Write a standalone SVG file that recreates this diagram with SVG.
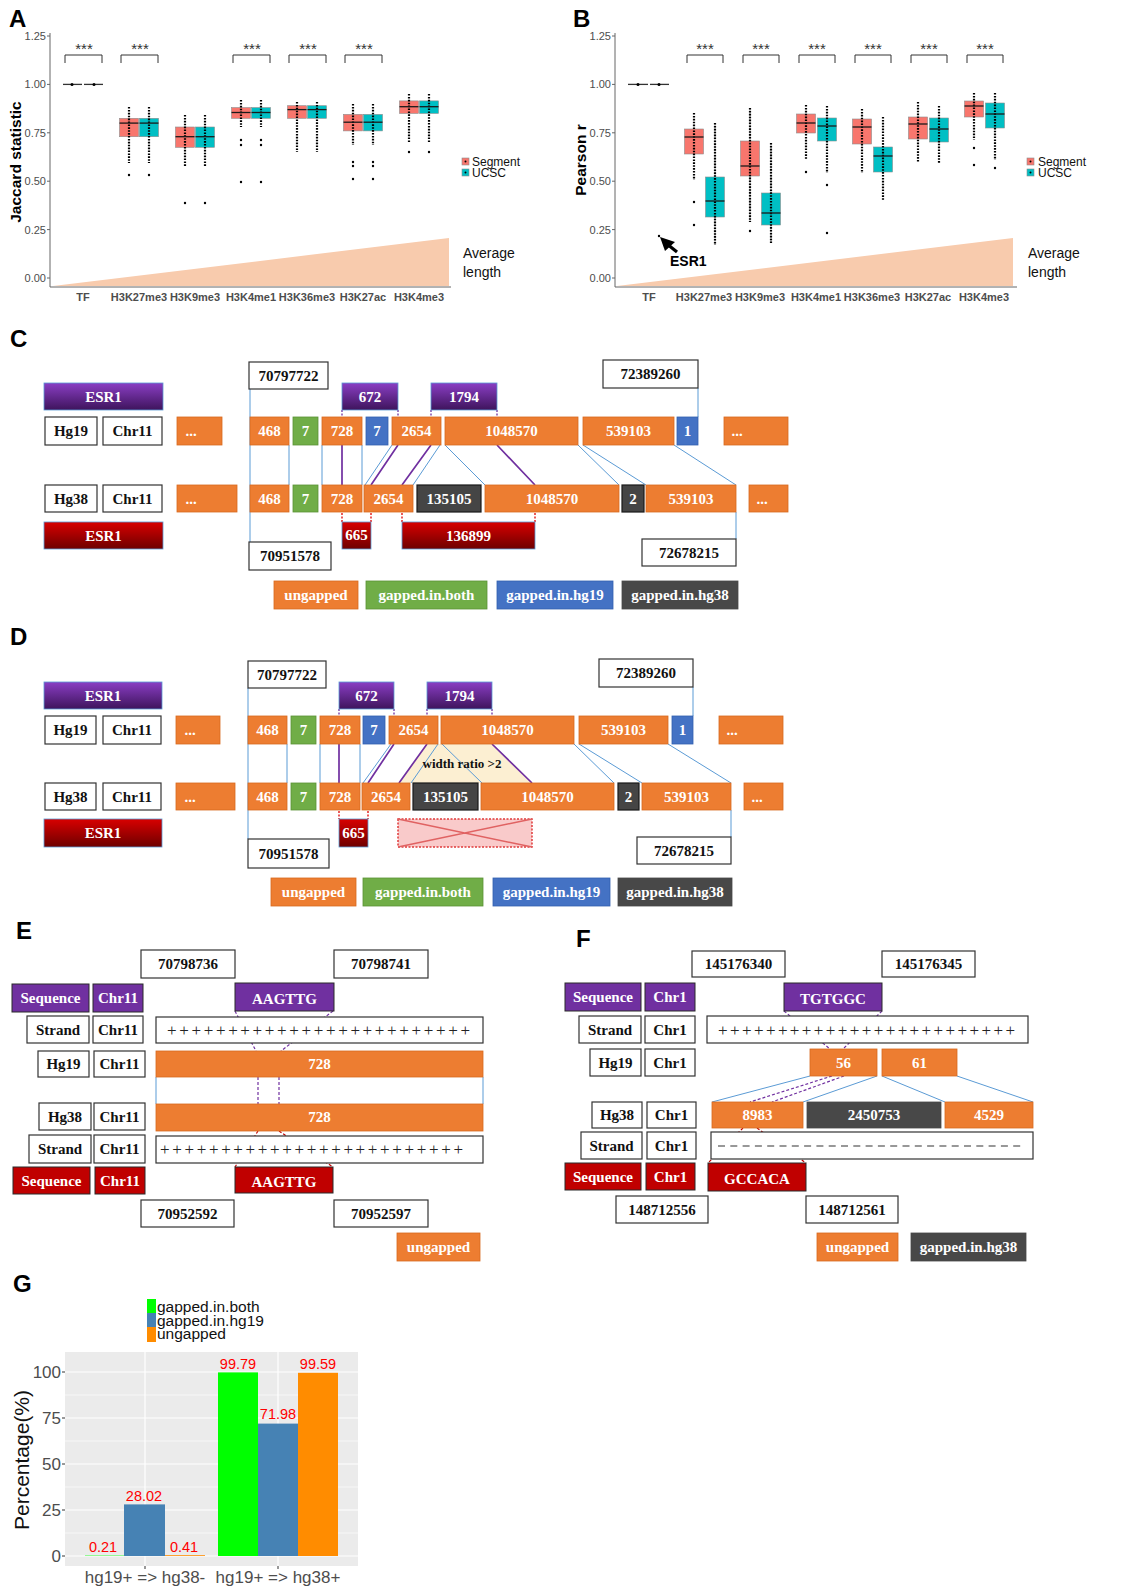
<svg xmlns="http://www.w3.org/2000/svg" width="1141" height="1587" viewBox="0 0 1141 1587">
<defs>
<linearGradient id="gp" x1="0" y1="0" x2="0" y2="1"><stop offset="0" stop-color="#8A3EC4"/><stop offset="1" stop-color="#3E145C"/></linearGradient>
<linearGradient id="gr" x1="0" y1="0" x2="0" y2="1"><stop offset="0" stop-color="#D80000"/><stop offset="1" stop-color="#6E0000"/></linearGradient>
<style>
.plab{font-family:"Liberation Sans",Arial,sans-serif;font-weight:bold;font-size:24px;fill:#000}
.tick{font-family:"Liberation Sans",Arial,sans-serif;font-size:11px;fill:#4D4D4D;text-anchor:end}
.cat{font-family:"Liberation Sans",Arial,sans-serif;font-size:11px;font-weight:bold;fill:#4D4D4D;text-anchor:middle}
.ylab{font-family:"Liberation Sans",Arial,sans-serif;font-size:15.5px;font-weight:bold;fill:#000;text-anchor:middle}
.avg{font-family:"Liberation Sans",Arial,sans-serif;font-size:14px;fill:#111}
.leg{font-family:"Liberation Sans",Arial,sans-serif;font-size:12px;fill:#111}
.axis{stroke:#666;stroke-width:1;fill:none}
.star{font-family:"Liberation Sans",Arial,sans-serif;font-size:15px;fill:#333;text-anchor:middle}
.brk{fill:none;stroke:#333;stroke-width:1}
.seg{fill:#F8766D;stroke:#8C8C8C;stroke-width:0.6}
.ucs{fill:#00BFC4;stroke:#8C8C8C;stroke-width:0.6}
.med{stroke:#1a1a1a;stroke-width:1.3}
.dts{stroke:#000;stroke-width:2.2;stroke-dasharray:1.6 1.3}
.whk{stroke:#777;stroke-width:0.7}
.o{fill:#ED7D31;stroke:#D8691F;stroke-width:0.8}
.gn{fill:#70AD47;stroke:#5A9236;stroke-width:0.8}
.bu{fill:#4472C4;stroke:#3360B0;stroke-width:0.8}
.dk{fill:#454545;stroke:#1a1a1a;stroke-width:1.2}
.dkl{fill:#484848;stroke:#484848;stroke-width:0.8}
.wb{fill:#fff;stroke:#333;stroke-width:1.2}
.pu{fill:url(#gp);stroke:#5B9BD5;stroke-width:0.8}
.rd{fill:url(#gr);stroke:#5B9BD5;stroke-width:0.8}
.puf{fill:#7030A0;stroke:#2a2a2a;stroke-width:1}
.rdf{fill:#C00000;stroke:#2a2a2a;stroke-width:1}
.tw{font-family:"Liberation Serif","Times New Roman",serif;font-weight:bold;font-size:15px;fill:#fff;text-anchor:middle}
.tb{font-family:"Liberation Serif","Times New Roman",serif;font-weight:bold;font-size:15px;fill:#111;text-anchor:middle}
.pls{font-family:"Liberation Serif","Times New Roman",serif;font-size:17px;fill:#222}
.bl{stroke:#5B9BD5;stroke-width:1;fill:none}
.pl{stroke:#7030A0;stroke-width:1.7;fill:none}
.pd{stroke:#7030A0;stroke-width:1.3;stroke-dasharray:2 1.5;fill:none}
.rdd{stroke:#E00000;stroke-width:1.3;stroke-dasharray:2 1.5;fill:none}
.pds{stroke:#7030A0;stroke-width:1.2;stroke-dasharray:3 2;fill:none}
.rds{stroke:#C00000;stroke-width:1.2;stroke-dasharray:3 2;fill:none}
.gt{font-family:"Liberation Sans",Arial,sans-serif;font-size:17px;fill:#4D4D4D}
.gl{font-family:"Liberation Sans",Arial,sans-serif;font-size:15.5px;fill:#111}
.val{font-family:"Liberation Sans",Arial,sans-serif;font-size:14.5px;fill:#FF0000;text-anchor:middle}
</style>
</defs>
<rect width="1141" height="1587" fill="#fff"/>

<!-- ================= PANEL A ================= -->
<g id="panelA">
<text class="plab" x="9" y="27">A</text>
<polygon points="53,286 449,238 449,286" fill="#F8CBAD"/>
<line class="axis" x1="50" y1="33" x2="50" y2="287"/>
<line class="axis" x1="50" y1="287" x2="451" y2="287"/>
<g class="axis"><path d="M47 36H50M47 84.4H50M47 132.8H50M47 181.2H50M47 229.6H50M47 278H50"/></g>
<text class="tick" x="46" y="40">1.25</text>
<text class="tick" x="46" y="88.4">1.00</text>
<text class="tick" x="46" y="136.8">0.75</text>
<text class="tick" x="46" y="185.2">0.50</text>
<text class="tick" x="46" y="233.6">0.25</text>
<text class="tick" x="46" y="282">0.00</text>
<text class="ylab" transform="translate(21,162) rotate(-90)">Jaccard statistic</text>
<g>
<text class="cat" x="83" y="301">TF</text>
<text class="cat" x="139" y="301">H3K27me3</text>
<text class="cat" x="195" y="301">H3K9me3</text>
<text class="cat" x="251" y="301">H3K4me1</text>
<text class="cat" x="307" y="301">H3K36me3</text>
<text class="cat" x="363" y="301">H3K27ac</text>
<text class="cat" x="419" y="301">H3K4me3</text>
</g>
<g id="A-brackets">
<path class="brk" d="M65 63V55H102V63M121 63V55H158V63M233 63V55H270V63M289 63V55H326V63M345 63V55H382V63"/>
<text class="star" x="84" y="54">***</text>
<text class="star" x="140" y="54">***</text>
<text class="star" x="252" y="54">***</text>
<text class="star" x="308" y="54">***</text>
<text class="star" x="364" y="54">***</text>
</g>
<g id="A-TF">
<line x1="63" y1="84.4" x2="82" y2="84.4" stroke="#333" stroke-width="1.3"/>
<line x1="84" y1="84.4" x2="103" y2="84.4" stroke="#333" stroke-width="1.3"/>
<circle cx="72" cy="84.4" r="1.5"/><circle cx="94" cy="84.4" r="1.5"/>
</g>
<g id="A-H3K27me3">
<rect class="seg" x="119.5" y="118.3" width="19" height="18.4"/><rect class="ucs" x="139.5" y="118.3" width="19" height="18.4"/>
<line class="dts" x1="129" y1="107" x2="129" y2="163"/><line class="dts" x1="149" y1="107" x2="149" y2="163"/>
<line class="med" x1="119.5" y1="123.1" x2="138.5" y2="123.1"/><line class="med" x1="139.5" y1="123.1" x2="158.5" y2="123.1"/>
<circle cx="129" cy="175" r="1.2"/><circle cx="149" cy="175" r="1.2"/>
</g>
<g id="A-H3K9me3">
<rect class="seg" x="175.5" y="127" width="19" height="20.3"/><rect class="ucs" x="195.5" y="127" width="19" height="20.3"/>
<line class="dts" x1="185" y1="115" x2="185" y2="167"/><line class="dts" x1="205" y1="115" x2="205" y2="167"/>
<line class="med" x1="175.5" y1="136.7" x2="194.5" y2="136.7"/><line class="med" x1="195.5" y1="136.7" x2="214.5" y2="136.7"/>
<circle cx="185" cy="203" r="1.2"/><circle cx="205" cy="203" r="1.2"/>
</g>
<g id="A-H3K4me1">
<rect class="seg" x="231.5" y="107.6" width="19" height="10.7"/><rect class="ucs" x="251.5" y="107.6" width="19" height="10.7"/>
<line class="dts" x1="241" y1="100" x2="241" y2="127"/><line class="dts" x1="261" y1="100" x2="261" y2="127"/>
<line class="med" x1="231.5" y1="112.5" x2="250.5" y2="112.5"/><line class="med" x1="251.5" y1="112.5" x2="270.5" y2="112.5"/>
<circle cx="241" cy="140" r="1.2"/><circle cx="241" cy="145" r="1.2"/><circle cx="241" cy="182" r="1.2"/>
<circle cx="261" cy="140" r="1.2"/><circle cx="261" cy="145" r="1.2"/><circle cx="261" cy="182" r="1.2"/>
</g>
<g id="A-H3K36me3">
<rect class="seg" x="287.5" y="105.7" width="19" height="12.6"/><rect class="ucs" x="307.5" y="105.7" width="19" height="12.6"/>
<line class="dts" x1="297" y1="102" x2="297" y2="152"/><line class="dts" x1="317" y1="102" x2="317" y2="152"/>
<line class="med" x1="287.5" y1="109.6" x2="306.5" y2="109.6"/><line class="med" x1="307.5" y1="109.6" x2="326.5" y2="109.6"/>
</g>
<g id="A-H3K27ac">
<rect class="seg" x="343.5" y="114.4" width="19" height="16.5"/><rect class="ucs" x="363.5" y="114.4" width="19" height="16.5"/>
<line class="dts" x1="353" y1="104" x2="353" y2="145"/><line class="dts" x1="373" y1="104" x2="373" y2="145"/>
<line class="med" x1="343.5" y1="122.2" x2="362.5" y2="122.2"/><line class="med" x1="363.5" y1="122.2" x2="382.5" y2="122.2"/>
<circle cx="353" cy="162" r="1.2"/><circle cx="353" cy="166" r="1.2"/><circle cx="353" cy="179" r="1.2"/>
<circle cx="373" cy="162" r="1.2"/><circle cx="373" cy="166" r="1.2"/><circle cx="373" cy="179" r="1.2"/>
</g>
<g id="A-H3K4me3">
<rect class="seg" x="399.5" y="100.9" width="19" height="12.5"/><rect class="ucs" x="419.5" y="100.9" width="19" height="12.5"/>
<line class="dts" x1="409" y1="94" x2="409" y2="142"/><line class="dts" x1="429" y1="94" x2="429" y2="142"/>
<line class="med" x1="399.5" y1="106.7" x2="418.5" y2="106.7"/><line class="med" x1="419.5" y1="106.7" x2="438.5" y2="106.7"/>
<circle cx="409" cy="152" r="1.2"/><circle cx="429" cy="152" r="1.2"/>
</g>
<g id="A-legend">
<rect class="seg" x="462" y="158" width="7" height="7"/><circle cx="465.5" cy="161.5" r="1"/>
<rect class="ucs" x="462" y="169" width="7" height="7"/><circle cx="465.5" cy="172.5" r="1"/>
<text class="leg" x="472" y="166">Segment</text>
<text class="leg" x="472" y="177">UCSC</text>
</g>
<text class="avg" x="463" y="258">Average</text>
<text class="avg" x="463" y="277">length</text>
</g>

<!-- ================= PANEL B ================= -->
<g id="panelB">
<text class="plab" x="573" y="27">B</text>
<polygon points="617,286 1013,238 1013,286" fill="#F8CBAD"/>
<line class="axis" x1="615" y1="33" x2="615" y2="287"/>
<line class="axis" x1="615" y1="287" x2="1017" y2="287"/>
<g class="axis"><path d="M612 36H615M612 84.4H615M612 132.8H615M612 181.2H615M612 229.6H615M612 278H615"/></g>
<text class="tick" x="611" y="40">1.25</text>
<text class="tick" x="611" y="88.4">1.00</text>
<text class="tick" x="611" y="136.8">0.75</text>
<text class="tick" x="611" y="185.2">0.50</text>
<text class="tick" x="611" y="233.6">0.25</text>
<text class="tick" x="611" y="282">0.00</text>
<text class="ylab" font-size="16px" transform="translate(586,160) rotate(-90)">Pearson r</text>
<g>
<text class="cat" x="649" y="301">TF</text>
<text class="cat" x="704" y="301">H3K27me3</text>
<text class="cat" x="760" y="301">H3K9me3</text>
<text class="cat" x="816" y="301">H3K4me1</text>
<text class="cat" x="872" y="301">H3K36me3</text>
<text class="cat" x="928" y="301">H3K27ac</text>
<text class="cat" x="984" y="301">H3K4me3</text>
</g>
<g id="B-brackets">
<path class="brk" d="M687 63V55H723V63M743 63V55H779V63M799 63V55H835V63M855 63V55H891V63M911 63V55H947V63M967 63V55H1003V63"/>
<text class="star" x="705" y="54">***</text>
<text class="star" x="761" y="54">***</text>
<text class="star" x="817" y="54">***</text>
<text class="star" x="873" y="54">***</text>
<text class="star" x="929" y="54">***</text>
<text class="star" x="985" y="54">***</text>
</g>
<g id="B-TF">
<line x1="628" y1="84.4" x2="648" y2="84.4" stroke="#333" stroke-width="1.3"/>
<line x1="650" y1="84.4" x2="669" y2="84.4" stroke="#333" stroke-width="1.3"/>
<circle cx="638" cy="84.4" r="1.5"/><circle cx="659" cy="84.4" r="1.5"/>
<circle cx="659" cy="236" r="1.2"/>
</g>
<g id="B-H3K27me3">
<line class="whk" x1="715" y1="123" x2="715" y2="245"/>
<rect class="seg" x="684.5" y="129" width="19" height="25"/><rect class="ucs" x="705.5" y="177" width="19" height="40"/>
<line class="dts" x1="694" y1="113" x2="694" y2="180"/><line class="dts" x1="715" y1="123" x2="715" y2="245"/>
<line class="med" x1="684.5" y1="137" x2="703.5" y2="137"/><line class="med" x1="705.5" y1="201" x2="724.5" y2="201"/>
<circle cx="694" cy="202" r="1.2"/><circle cx="694" cy="225" r="1.2"/>
</g>
<g id="B-H3K9me3">
<line class="whk" x1="750" y1="108" x2="750" y2="222"/><line class="whk" x1="771" y1="143" x2="771" y2="243"/>
<rect class="seg" x="740.5" y="141" width="19" height="35"/><rect class="ucs" x="761.5" y="193" width="19" height="32"/>
<line class="dts" x1="750" y1="108" x2="750" y2="222"/><line class="dts" x1="771" y1="143" x2="771" y2="243"/>
<line class="med" x1="740.5" y1="166" x2="759.5" y2="166"/><line class="med" x1="761.5" y1="213" x2="780.5" y2="213"/>
<circle cx="750" cy="231" r="1.2"/>
</g>
<g id="B-H3K4me1">
<rect class="seg" x="796.5" y="114" width="19" height="19"/><rect class="ucs" x="817.5" y="118" width="19" height="23"/>
<line class="dts" x1="806" y1="105" x2="806" y2="160"/><line class="dts" x1="827" y1="106" x2="827" y2="173"/>
<line class="med" x1="796.5" y1="123" x2="815.5" y2="123"/><line class="med" x1="817.5" y1="126" x2="836.5" y2="126"/>
<circle cx="806" cy="172" r="1.2"/><circle cx="827" cy="185" r="1.2"/><circle cx="827" cy="233" r="1.2"/>
</g>
<g id="B-H3K36me3">
<rect class="seg" x="852.5" y="119" width="19" height="25"/><rect class="ucs" x="873.5" y="147" width="19" height="25"/>
<line class="dts" x1="862" y1="109" x2="862" y2="173"/><line class="dts" x1="883" y1="117" x2="883" y2="200"/>
<line class="med" x1="852.5" y1="127" x2="871.5" y2="127"/><line class="med" x1="873.5" y1="156" x2="892.5" y2="156"/>
</g>
<g id="B-H3K27ac">
<rect class="seg" x="908.5" y="117" width="19" height="22"/><rect class="ucs" x="929.5" y="118" width="19" height="24"/>
<line class="dts" x1="918" y1="102" x2="918" y2="163"/><line class="dts" x1="939" y1="106" x2="939" y2="163"/>
<line class="med" x1="908.5" y1="124" x2="927.5" y2="124"/><line class="med" x1="929.5" y1="129" x2="948.5" y2="129"/>
</g>
<g id="B-H3K4me3">
<rect class="seg" x="964.5" y="101" width="19" height="16"/><rect class="ucs" x="985.5" y="103" width="19" height="25"/>
<line class="dts" x1="974" y1="93" x2="974" y2="140"/><line class="dts" x1="995" y1="93" x2="995" y2="160"/>
<line class="med" x1="964.5" y1="106" x2="983.5" y2="106"/><line class="med" x1="985.5" y1="114" x2="1004.5" y2="114"/>
<circle cx="974" cy="148" r="1.2"/><circle cx="974" cy="165" r="1.2"/><circle cx="995" cy="168" r="1.2"/>
</g>
<g id="B-legend">
<rect class="seg" x="1027" y="158" width="7" height="7"/><circle cx="1030.5" cy="161.5" r="1"/>
<rect class="ucs" x="1027" y="169" width="7" height="7"/><circle cx="1030.5" cy="172.5" r="1"/>
<text class="leg" x="1038" y="166">Segment</text>
<text class="leg" x="1038" y="177">UCSC</text>
</g>
<g id="B-esr1-arrow">
<line x1="677" y1="252" x2="667" y2="244" stroke="#000" stroke-width="3.2"/>
<polygon points="660,237 675,242 665,251" fill="#000"/>
<text x="670" y="266" font-family="Liberation Sans, Arial, sans-serif" font-weight="bold" font-size="14" fill="#000">ESR1</text>
</g>
<text class="avg" x="1028" y="258">Average</text>
<text class="avg" x="1028" y="277">length</text>
</g>

<!-- ================= PANEL C ================= -->
<g id="panelC">
<text class="plab" x="10" y="347">C</text>
<g id="C-connectors">
<path class="bl" d="M250 389V542M289 445V485M322 445V485M362 445V485M392 445L365 485M440 445L413 485M445 445L485 485M578 445L619 485M583 445L646 485M674 445L736 485M698 388V417M736 512V539"/>
<path class="pl" d="M342 445V485M398 445L371 485M431 445L402 485M497 445L535 485"/>
<path class="pd" d="M342 410V445M398 410V445M431 410V445M497 410V445"/>
<path class="rdd" d="M342 485V522M371 485V522M402 485V522M535 485V522"/>
</g>
<g id="C-esr1-hg19"><rect class="pu" x="44" y="383" width="119" height="27"/><text class="tw" font-size="16" x="103.5" y="402">ESR1</text></g>
<g id="C-hg19"><rect class="wb" x="45" y="417" width="52" height="28"/><text class="tb" x="71" y="436">Hg19</text></g>
<g id="C-chr11a"><rect class="wb" x="103" y="417" width="59" height="28"/><text class="tb" x="132.5" y="436">Chr11</text></g>
<g id="C-h19-dots"><rect class="o" x="177" y="417" width="45" height="28"/><text class="tw" x="191" y="436" text-anchor="start">...</text></g>
<g id="C-h19-468"><rect class="o" x="250" y="417" width="39" height="28"/><text class="tw" x="269.5" y="436">468</text></g>
<g id="C-h19-7g"><rect class="gn" x="293" y="417" width="25" height="28"/><text class="tw" x="305.5" y="436">7</text></g>
<g id="C-h19-728"><rect class="o" x="322" y="417" width="40" height="28"/><text class="tw" x="342" y="436">728</text></g>
<g id="C-h19-7b"><rect class="bu" x="366" y="417" width="22" height="28"/><text class="tw" x="377" y="436">7</text></g>
<g id="C-h19-2654"><rect class="o" x="392" y="417" width="49" height="28"/><text class="tw" x="416.5" y="436">2654</text></g>
<g id="C-h19-1048570"><rect class="o" x="445" y="417" width="133" height="28"/><text class="tw" x="511.5" y="436">1048570</text></g>
<g id="C-h19-539103"><rect class="o" x="583" y="417" width="91" height="28"/><text class="tw" x="628.5" y="436">539103</text></g>
<g id="C-h19-1b"><rect class="bu" x="677" y="417" width="21" height="28"/><text class="tw" x="687.5" y="436">1</text></g>
<g id="C-h19-dots2"><rect class="o" x="724" y="417" width="64" height="28"/><text class="tw" x="737" y="436" text-anchor="start">...</text></g>

<g id="C-hg38"><rect class="wb" x="45" y="485" width="52" height="27"/><text class="tb" x="71" y="504">Hg38</text></g>
<g id="C-chr11b"><rect class="wb" x="103" y="485" width="59" height="27"/><text class="tb" x="132.5" y="504">Chr11</text></g>
<g id="C-h38-dots"><rect class="o" x="177" y="485" width="60" height="27"/><text class="tw" x="191" y="504" text-anchor="start">...</text></g>
<g id="C-h38-468"><rect class="o" x="250" y="485" width="39" height="27"/><text class="tw" x="269.5" y="504">468</text></g>
<g id="C-h38-7"><rect class="gn" x="293" y="485" width="25" height="27"/><text class="tw" x="305.5" y="504">7</text></g>
<g id="C-h38-728"><rect class="o" x="322" y="485" width="40" height="27"/><text class="tw" x="342" y="504">728</text></g>
<g id="C-h38-2654"><rect class="o" x="364" y="485" width="49" height="27"/><text class="tw" x="388.5" y="504">2654</text></g>
<g id="C-h38-135105"><rect class="dk" x="417" y="485" width="64" height="27"/><text class="tw" x="449" y="504">135105</text></g>
<g id="C-h38-1048570"><rect class="o" x="485" y="485" width="134" height="27"/><text class="tw" x="552" y="504">1048570</text></g>
<g id="C-h38-2"><rect class="dk" x="622" y="485" width="22" height="27"/><text class="tw" x="633" y="504">2</text></g>
<g id="C-h38-539103"><rect class="o" x="646" y="485" width="90" height="27"/><text class="tw" x="691" y="504">539103</text></g>
<g id="C-h38-dots2"><rect class="o" x="749" y="485" width="39" height="27"/><text class="tw" x="762" y="504" text-anchor="start">...</text></g>

<g id="C-esr1-hg38"><rect class="rd" x="44" y="522" width="119" height="27"/><text class="tw" font-size="16" x="103.5" y="541">ESR1</text></g>
<g id="C-665"><rect class="rd" x="342" y="522" width="29" height="27"/><text class="tw" font-size="14" x="356.5" y="540">665</text></g>
<g id="C-136899"><rect class="rd" x="402" y="522" width="133" height="27"/><text class="tw" x="468.5" y="541">136899</text></g>
<g id="C-672"><rect class="pu" x="342" y="383" width="56" height="27"/><text class="tw" x="370" y="402">672</text></g>
<g id="C-1794"><rect class="pu" x="431" y="383" width="66" height="27"/><text class="tw" x="464" y="402">1794</text></g>
<g id="C-70797722"><rect class="wb" x="249" y="362" width="79" height="27"/><text class="tb" x="288.5" y="381">70797722</text></g>
<g id="C-70951578"><rect class="wb" x="249" y="542" width="82" height="28"/><text class="tb" x="290" y="561">70951578</text></g>
<g id="C-72389260"><rect class="wb" x="603" y="360" width="95" height="28"/><text class="tb" x="650.5" y="379">72389260</text></g>
<g id="C-72678215"><rect class="wb" x="642" y="539" width="94" height="27"/><text class="tb" x="689" y="558">72678215</text></g>
<g id="C-legend">
<rect class="o" x="274" y="581" width="84" height="28"/><text class="tw" x="316" y="600">ungapped</text>
<rect class="gn" x="366" y="581" width="121" height="28"/><text class="tw" x="426.5" y="600">gapped.in.both</text>
<rect class="bu" x="497" y="581" width="116" height="28"/><text class="tw" x="555" y="600">gapped.in.hg19</text>
<rect class="dkl" x="622" y="581" width="116" height="28"/><text class="tw" x="680" y="600">gapped.in.hg38</text>
</g>
</g>

<!-- ================= PANEL D ================= -->
<g id="panelD">
<text class="plab" x="10" y="645">D</text>
<g id="D-connectors">
<polygon points="427,744 492,744 532,783 399,783" fill="#FCEFD2"/>
<path class="bl" d="M248 688V839M287 744V783M320 744V783M360 744V783M391 744L363 783M438 744L411 783M442 744L482 783M574 744L614 783M579 744L642 783M668 744L731 783M693 687V716M731 810V837"/>
<path class="pl" d="M339 744V783M394 744L368 783M427 744L399 783M492 744L532 783"/>
<path class="pd" d="M339 709V744M394 709V744M427 709V744M492 709V744"/>
<path class="rdd" d="M339 783V819M368 783V819"/>
<text x="462" y="768" font-family="Liberation Serif, Times New Roman, serif" font-weight="bold" font-size="13" fill="#111" text-anchor="middle">width ratio &gt;2</text>
</g>
<g id="D-esr1-hg19"><rect class="pu" x="44" y="682" width="118" height="27"/><text class="tw" font-size="16" x="103" y="701">ESR1</text></g>
<g id="D-hg19"><rect class="wb" x="45" y="716" width="51" height="28"/><text class="tb" x="70.5" y="735">Hg19</text></g>
<g id="D-chr11a"><rect class="wb" x="103" y="716" width="58" height="28"/><text class="tb" x="132" y="735">Chr11</text></g>
<g id="D-h19-dots"><rect class="o" x="176" y="716" width="44" height="28"/><text class="tw" x="190" y="735" text-anchor="start">...</text></g>
<g id="D-h19-468"><rect class="o" x="248" y="716" width="39" height="28"/><text class="tw" x="267.5" y="735">468</text></g>
<g id="D-h19-7g"><rect class="gn" x="291" y="716" width="25" height="28"/><text class="tw" x="303.5" y="735">7</text></g>
<g id="D-h19-728"><rect class="o" x="320" y="716" width="40" height="28"/><text class="tw" x="340" y="735">728</text></g>
<g id="D-h19-7b"><rect class="bu" x="363" y="716" width="22" height="28"/><text class="tw" x="374" y="735">7</text></g>
<g id="D-h19-2654"><rect class="o" x="389" y="716" width="49" height="28"/><text class="tw" x="413.5" y="735">2654</text></g>
<g id="D-h19-1048570"><rect class="o" x="441" y="716" width="133" height="28"/><text class="tw" x="507.5" y="735">1048570</text></g>
<g id="D-h19-539103"><rect class="o" x="579" y="716" width="89" height="28"/><text class="tw" x="623.5" y="735">539103</text></g>
<g id="D-h19-1b"><rect class="bu" x="672" y="716" width="21" height="28"/><text class="tw" x="682.5" y="735">1</text></g>
<g id="D-h19-dots2"><rect class="o" x="719" y="716" width="64" height="28"/><text class="tw" x="732" y="735" text-anchor="start">...</text></g>

<g id="D-hg38"><rect class="wb" x="45" y="783" width="51" height="27"/><text class="tb" x="70.5" y="802">Hg38</text></g>
<g id="D-chr11b"><rect class="wb" x="103" y="783" width="58" height="27"/><text class="tb" x="132" y="802">Chr11</text></g>
<g id="D-h38-dots"><rect class="o" x="176" y="783" width="59" height="27"/><text class="tw" x="190" y="802" text-anchor="start">...</text></g>
<g id="D-h38-468"><rect class="o" x="248" y="783" width="39" height="27"/><text class="tw" x="267.5" y="802">468</text></g>
<g id="D-h38-7"><rect class="gn" x="291" y="783" width="25" height="27"/><text class="tw" x="303.5" y="802">7</text></g>
<g id="D-h38-728"><rect class="o" x="320" y="783" width="40" height="27"/><text class="tw" x="340" y="802">728</text></g>
<g id="D-h38-2654"><rect class="o" x="362" y="783" width="48" height="27"/><text class="tw" x="386" y="802">2654</text></g>
<g id="D-h38-135105"><rect class="dk" x="413" y="783" width="65" height="27"/><text class="tw" x="445.5" y="802">135105</text></g>
<g id="D-h38-1048570"><rect class="o" x="481" y="783" width="133" height="27"/><text class="tw" x="547.5" y="802">1048570</text></g>
<g id="D-h38-2"><rect class="dk" x="618" y="783" width="21" height="27"/><text class="tw" x="628.5" y="802">2</text></g>
<g id="D-h38-539103"><rect class="o" x="642" y="783" width="89" height="27"/><text class="tw" x="686.5" y="802">539103</text></g>
<g id="D-h38-dots2"><rect class="o" x="744" y="783" width="39" height="27"/><text class="tw" x="757" y="802" text-anchor="start">...</text></g>

<g id="D-esr1-hg38"><rect class="rd" x="44" y="819" width="118" height="28"/><text class="tw" font-size="16" x="103" y="838">ESR1</text></g>
<g id="D-665"><rect class="rd" x="339" y="819" width="29" height="28"/><text class="tw" font-size="14" x="353.5" y="838">665</text></g>
<g id="D-crossed">
<rect x="398" y="819" width="134" height="28" fill="#F9CACA" stroke="#E03A3A" stroke-width="1.5" stroke-dasharray="2 1.5"/>
<path d="M398 819L532 847M398 847L532 819" stroke="#E06262" stroke-width="1.5" fill="none"/>
</g>
<g id="D-672"><rect class="pu" x="339" y="682" width="55" height="27"/><text class="tw" x="366.5" y="701">672</text></g>
<g id="D-1794"><rect class="pu" x="427" y="682" width="65" height="27"/><text class="tw" x="459.5" y="701">1794</text></g>
<g id="D-70797722"><rect class="wb" x="248" y="661" width="78" height="27"/><text class="tb" x="287" y="680">70797722</text></g>
<g id="D-70951578"><rect class="wb" x="248" y="839" width="81" height="29"/><text class="tb" x="288.5" y="858.5">70951578</text></g>
<g id="D-72389260"><rect class="wb" x="599" y="659" width="94" height="28"/><text class="tb" x="646" y="678">72389260</text></g>
<g id="D-72678215"><rect class="wb" x="637" y="837" width="94" height="27"/><text class="tb" x="684" y="856">72678215</text></g>
<g id="D-legend">
<rect class="o" x="271" y="878" width="85" height="28"/><text class="tw" x="313.5" y="897">ungapped</text>
<rect class="gn" x="363" y="878" width="120" height="28"/><text class="tw" x="423" y="897">gapped.in.both</text>
<rect class="bu" x="493" y="878" width="117" height="28"/><text class="tw" x="551.5" y="897">gapped.in.hg19</text>
<rect class="dkl" x="618" y="878" width="114" height="28"/><text class="tw" x="675" y="897">gapped.in.hg38</text>
</g>
</g>

<!-- ================= PANEL E ================= -->
<g id="panelE">
<text class="plab" x="16" y="939">E</text>
<g id="E-connectors">
<path class="bl" d="M156 1077V1104M483 1077V1104"/>
<path class="pds" d="M235 1011L256 1051M333 1011L281 1051M258 1077V1104M279 1077V1104"/>
<path class="rds" d="M258 1131L235 1167M279 1131L333 1167"/>
</g>
<g id="E-70798736"><rect class="wb" x="141" y="950" width="94" height="28"/><text class="tb" x="188" y="969">70798736</text></g>
<g id="E-70798741"><rect class="wb" x="334" y="950" width="94" height="28"/><text class="tb" x="381" y="969">70798741</text></g>
<g id="E-seq1"><rect class="puf" x="12" y="984" width="77" height="28"/><text class="tw" x="50.5" y="1003">Sequence</text></g>
<g id="E-seqchr1"><rect class="puf" x="93" y="984" width="50" height="28"/><text class="tw" x="118" y="1003">Chr11</text></g>
<g id="E-AAGTTG1"><rect class="puf" x="235" y="983" width="99" height="28"/><text class="tw" font-size="19" x="284.5" y="1004">AAGTTG</text></g>
<g id="E-strand1"><rect class="wb" x="27" y="1016" width="62" height="27"/><text class="tb" x="58" y="1035">Strand</text></g>
<g id="E-strandchr1"><rect class="wb" x="93" y="1016" width="50" height="27"/><text class="tb" x="118" y="1035">Chr11</text></g>
<g id="E-plus1"><rect class="wb" x="156" y="1017" width="327" height="26"/><text class="pls" x="167" y="1036" textLength="303" lengthAdjust="spacing">+++++++++++++++++++++++++</text></g>
<g id="E-hg19"><rect class="wb" x="38" y="1051" width="51" height="26"/><text class="tb" x="63.5" y="1069">Hg19</text></g>
<g id="E-hg19chr"><rect class="wb" x="94" y="1051" width="51" height="26"/><text class="tb" x="119.5" y="1069">Chr11</text></g>
<g id="E-728a"><rect class="o" x="156" y="1051" width="327" height="26"/><text class="tw" font-size="14" x="319.5" y="1069">728</text></g>
<g id="E-hg38"><rect class="wb" x="39" y="1103" width="52" height="27"/><text class="tb" x="65" y="1122">Hg38</text></g>
<g id="E-hg38chr"><rect class="wb" x="94" y="1103" width="51" height="27"/><text class="tb" x="119.5" y="1122">Chr11</text></g>
<g id="E-728b"><rect class="o" x="156" y="1104" width="327" height="27"/><text class="tw" font-size="14" x="319.5" y="1122">728</text></g>
<g id="E-strand2"><rect class="wb" x="29" y="1135" width="62" height="28"/><text class="tb" x="60" y="1154">Strand</text></g>
<g id="E-strandchr2"><rect class="wb" x="94" y="1135" width="51" height="28"/><text class="tb" x="119.5" y="1154">Chr11</text></g>
<g id="E-plus2"><rect class="wb" x="156" y="1136" width="327" height="27"/><text class="pls" x="160" y="1155" textLength="303" lengthAdjust="spacing">+++++++++++++++++++++++++</text></g>
<g id="E-seq2"><rect class="rdf" x="13" y="1167" width="77" height="27"/><text class="tw" x="51.5" y="1186">Sequence</text></g>
<g id="E-seqchr2"><rect class="rdf" x="95" y="1167" width="50" height="27"/><text class="tw" x="120" y="1186">Chr11</text></g>
<g id="E-AAGTTG2"><rect class="rdf" x="235" y="1167" width="98" height="26"/><text class="tw" font-size="19" x="284" y="1187">AAGTTG</text></g>
<g id="E-70952592"><rect class="wb" x="141" y="1200" width="93" height="27"/><text class="tb" x="187.5" y="1219">70952592</text></g>
<g id="E-70952597"><rect class="wb" x="334" y="1200" width="94" height="27"/><text class="tb" x="381" y="1219">70952597</text></g>
<g id="E-legend"><rect class="o" x="397" y="1233" width="83" height="28"/><text class="tw" x="438.5" y="1252">ungapped</text></g>
</g>

<!-- ================= PANEL F ================= -->
<g id="panelF">
<text class="plab" x="576" y="947">F</text>
<g id="F-connectors">
<path class="bl" d="M810 1076L712 1102M877 1076L803 1102M882 1076L945 1102M957 1076L1033 1102"/>
<path class="pds" d="M784 1011L830 1049M882 1011L843 1049M832 1076L750 1102M844 1076L772 1102"/>
<path class="rds" d="M743 1128L708 1163M757 1128L806 1163"/>
</g>
<g id="F-145176340"><rect class="wb" x="692" y="951" width="93" height="26"/><text class="tb" x="738.5" y="969">145176340</text></g>
<g id="F-145176345"><rect class="wb" x="882" y="951" width="93" height="26"/><text class="tb" x="928.5" y="969">145176345</text></g>
<g id="F-seq1"><rect class="puf" x="565" y="983" width="76" height="28"/><text class="tw" x="603" y="1002">Sequence</text></g>
<g id="F-seqchr1"><rect class="puf" x="645" y="983" width="50" height="28"/><text class="tw" x="670" y="1002">Chr1</text></g>
<g id="F-TGTGGC"><rect class="puf" x="784" y="983" width="98" height="28"/><text class="tw" font-size="19" x="833" y="1004">TGTGGC</text></g>
<g id="F-strand1"><rect class="wb" x="579" y="1016" width="62" height="27"/><text class="tb" x="610" y="1035">Strand</text></g>
<g id="F-strandchr1"><rect class="wb" x="645" y="1016" width="50" height="27"/><text class="tb" x="670" y="1035">Chr1</text></g>
<g id="F-plus"><rect class="wb" x="707" y="1016" width="321" height="27"/><text class="pls" x="718" y="1036" textLength="297" lengthAdjust="spacing">+++++++++++++++++++++++++</text></g>
<g id="F-hg19"><rect class="wb" x="590" y="1049" width="51" height="27"/><text class="tb" x="615.5" y="1068">Hg19</text></g>
<g id="F-hg19chr"><rect class="wb" x="645" y="1049" width="50" height="27"/><text class="tb" x="670" y="1068">Chr1</text></g>
<g id="F-56"><rect class="o" x="810" y="1049" width="67" height="27"/><text class="tw" x="843.5" y="1068">56</text></g>
<g id="F-61"><rect class="o" x="882" y="1049" width="75" height="27"/><text class="tw" x="919.5" y="1068">61</text></g>
<g id="F-hg38"><rect class="wb" x="592" y="1102" width="50" height="26"/><text class="tb" x="617" y="1120">Hg38</text></g>
<g id="F-hg38chr"><rect class="wb" x="647" y="1102" width="49" height="26"/><text class="tb" x="671.5" y="1120">Chr1</text></g>
<g id="F-8983"><rect class="o" x="712" y="1102" width="91" height="26"/><text class="tw" x="757.5" y="1120">8983</text></g>
<g id="F-2450753"><rect class="dkl" x="807" y="1102" width="134" height="26"/><text class="tw" x="874" y="1120">2450753</text></g>
<g id="F-4529"><rect class="o" x="945" y="1102" width="88" height="26"/><text class="tw" x="989" y="1120">4529</text></g>
<g id="F-strand2"><rect class="wb" x="581" y="1132" width="61" height="27"/><text class="tb" x="611.5" y="1151">Strand</text></g>
<g id="F-strandchr2"><rect class="wb" x="647" y="1132" width="49" height="27"/><text class="tb" x="671.5" y="1151">Chr1</text></g>
<g id="F-minus"><rect class="wb" x="711" y="1132" width="322" height="27"/><line x1="718" y1="1146" x2="1024" y2="1146" stroke="#333" stroke-width="1.2" stroke-dasharray="7 5.3"/></g>
<g id="F-seq2"><rect class="rdf" x="565" y="1163" width="76" height="27"/><text class="tw" x="603" y="1182">Sequence</text></g>
<g id="F-seqchr2"><rect class="rdf" x="646" y="1163" width="49" height="27"/><text class="tw" x="670.5" y="1182">Chr1</text></g>
<g id="F-GCCACA"><rect class="rdf" x="708" y="1163" width="98" height="28"/><text class="tw" font-size="19" x="757" y="1184">GCCACA</text></g>
<g id="F-148712556"><rect class="wb" x="616" y="1196" width="92" height="27"/><text class="tb" x="662" y="1215">148712556</text></g>
<g id="F-148712561"><rect class="wb" x="806" y="1196" width="92" height="27"/><text class="tb" x="852" y="1215">148712561</text></g>
<g id="F-legend">
<rect class="o" x="817" y="1233" width="81" height="28"/><text class="tw" x="857.5" y="1252">ungapped</text>
<rect class="dkl" x="911" y="1233" width="115" height="28"/><text class="tw" x="968.5" y="1252">gapped.in.hg38</text>
</g>
</g>

<!-- ================= PANEL G ================= -->
<g id="panelG">
<text class="plab" x="13" y="1292">G</text>
<g id="G-legend">
<rect x="147" y="1299" width="9" height="14" fill="#00FF00"/>
<rect x="147" y="1313" width="9" height="14" fill="#4682B4"/>
<rect x="147" y="1327" width="9" height="15" fill="#FF8C00"/>
<text class="gl" x="157" y="1311.5">gapped.in.both</text>
<text class="gl" x="157" y="1325.5">gapped.in.hg19</text>
<text class="gl" x="157" y="1339">ungapped</text>
</g>
<rect x="65" y="1352" width="293" height="214" fill="#EBEBEB"/>
<path d="M65 1395H358M65 1441H358M65 1487H358M65 1533H358" stroke="#fff" stroke-width="0.6"/>
<path d="M65 1372H358M65 1418H358M65 1464H358M65 1510H358M65 1556H358M145 1352V1566M278 1352V1566" stroke="#fff" stroke-width="1.2"/>
<g id="G-bars">
<rect x="85" y="1555.6" width="39" height="0.4" fill="#00FF00"/>
<rect x="124" y="1504.4" width="41" height="51.6" fill="#4682B4"/>
<rect x="165" y="1555.2" width="40" height="0.8" fill="#FF8C00"/>
<rect x="218" y="1372.4" width="40" height="183.6" fill="#00FF00"/>
<rect x="258" y="1423.6" width="40" height="132.4" fill="#4682B4"/>
<rect x="298" y="1372.8" width="40" height="183.2" fill="#FF8C00"/>
</g>
<g id="G-values">
<text class="val" x="103" y="1552">0.21</text>
<text class="val" x="144" y="1501">28.02</text>
<text class="val" x="184" y="1552">0.41</text>
<text class="val" x="238" y="1369">99.79</text>
<text class="val" x="278" y="1419">71.98</text>
<text class="val" x="318" y="1369">99.59</text>
</g>
<path d="M62 1372H65M62 1418H65M62 1464H65M62 1510H65M62 1556H65M145 1566V1569M278 1566V1569" stroke="#333" stroke-width="1"/>
<text class="gt" x="61" y="1378" text-anchor="end">100</text>
<text class="gt" x="61" y="1424" text-anchor="end">75</text>
<text class="gt" x="61" y="1470" text-anchor="end">50</text>
<text class="gt" x="61" y="1516" text-anchor="end">25</text>
<text class="gt" x="61" y="1562" text-anchor="end">0</text>
<text x="0" y="0" font-family="Liberation Sans, Arial, sans-serif" font-size="21" fill="#111" text-anchor="middle" transform="translate(29,1460) rotate(-90)">Percentage(%)</text>
<text class="gt" x="145" y="1583" text-anchor="middle">hg19+ =&gt; hg38-</text>
<text class="gt" x="278" y="1583" text-anchor="middle">hg19+ =&gt; hg38+</text>
</g>
</svg>
